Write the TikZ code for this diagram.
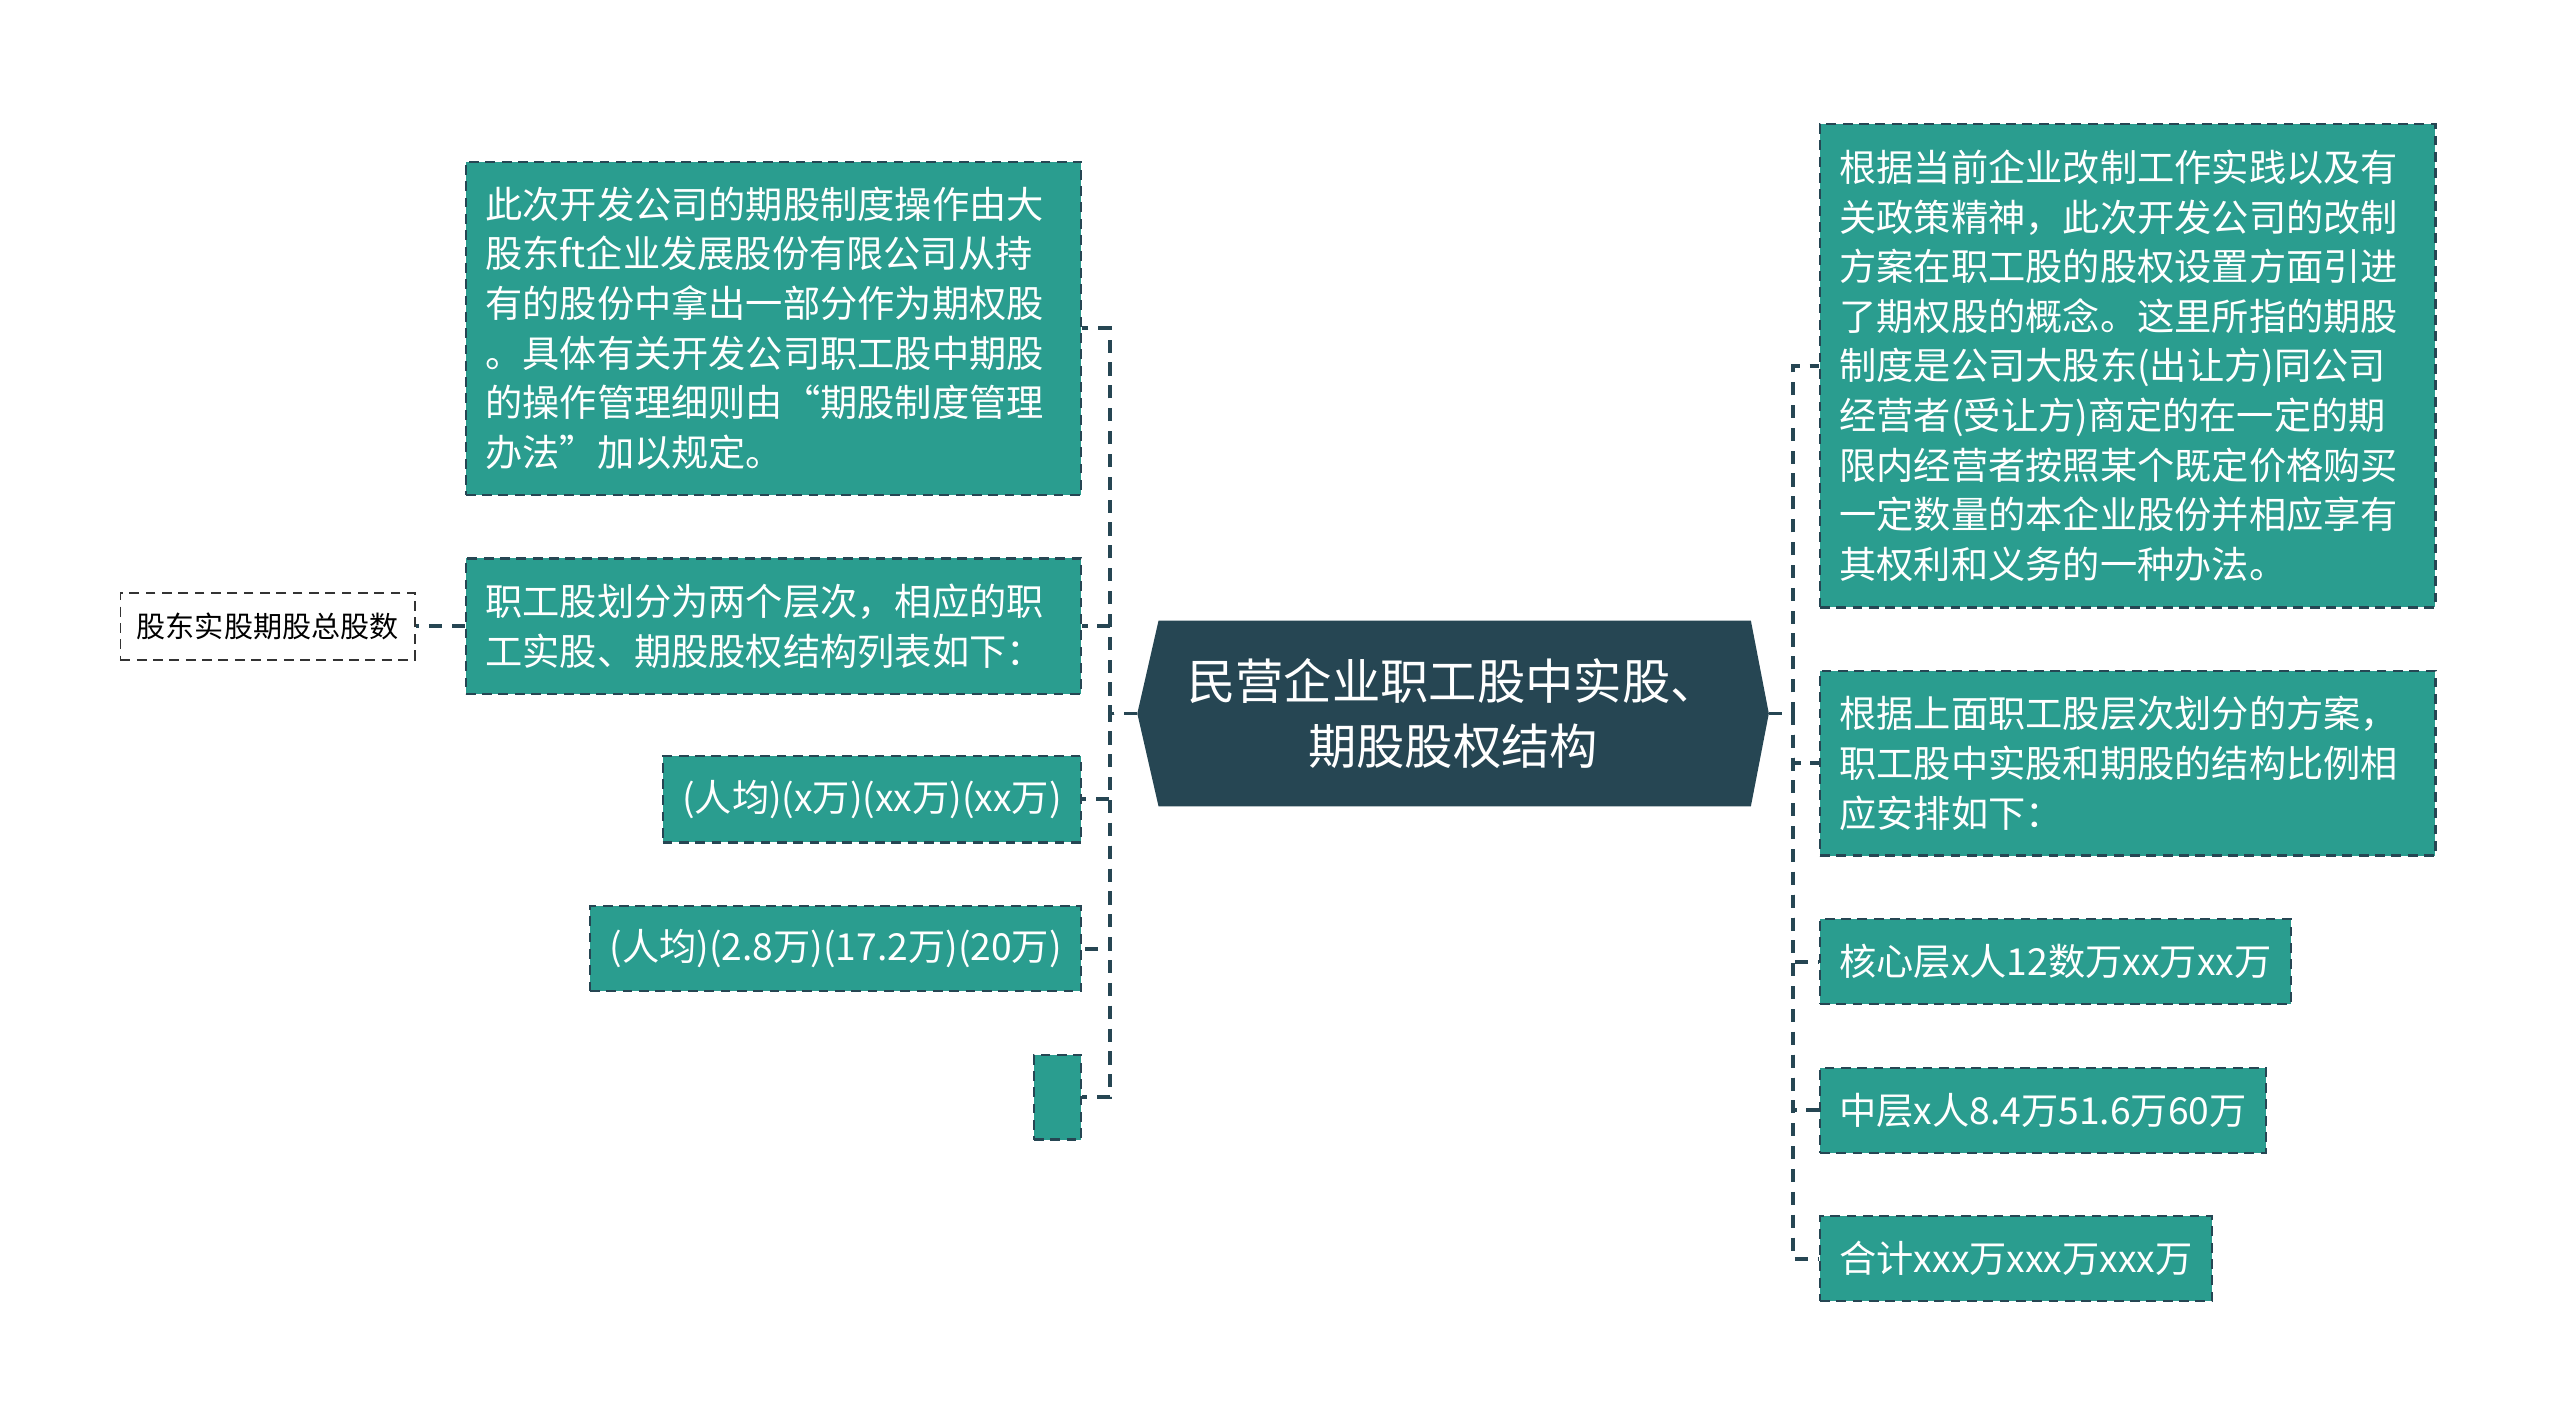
\documentclass[tikz,border=0pt]{standalone}
\usepackage{fontspec}
\newfontfamily\cjk{Noto Sans CJK SC}
\usetikzlibrary{positioning, calc, backgrounds}
\definecolor{topicteal}{HTML}{2A9D8F}
\definecolor{rootslate}{HTML}{264653}

\begin{document}
\begin{tikzpicture}[x=0.5pt, y=-0.5pt,
    topic/.style={draw=rootslate, dash pattern=on 3pt off 2pt, line width=0.7pt,
        fill=topicteal, text=white, font=\cjk\fontsize{11.4pt}{15.2pt}\selectfont,
        inner xsep=6pt, inner ysep=0pt, align=left},
    leaf/.style={draw=black!80, dash pattern=on 3pt off 2pt, line width=0.6pt,
        fill=white, text=black, font=\cjk\fontsize{8.9pt}{11pt}\selectfont,
        inner xsep=5pt, minimum height=20.5pt},
    link/.style={draw=rootslate, line width=1.2pt, dash pattern=on 4pt off 3pt}]
        \useasboundingbox (0,0) rectangle (1568,874);

        % Central topic
        \node[text=white, align=center, minimum width=193pt, minimum height=56.5pt,
        font=\cjk\fontsize{14.8pt}{20pt}\selectfont] (root) at (890,437)
        {民营企业职工股中实股、\\期股股权结构};
        \begin{scope}[on background layer]
        \fill[rootslate] (root.west) -- ($(root.north west)+(13,0)$)
        -- ($(root.north east)+(-11,0)$) -- (root.east)
        -- ($(root.south east)+(-11,0)$) -- ($(root.south west)+(13,0)$) -- cycle;
        \end{scope}

        % Left branches
        \node[topic, text width=176.5pt, minimum height=102pt, anchor=east]
        (lplan) at (663,201) {此次开发公司的期股制度操作由大\\股东ft企业发展股份有限公司从持\\有的股份中拿出一部分作为期权股\\。具体有关开发公司职工股中期股\\的操作管理细则由“期股制度管理\\办法”加以规定。};
        \node[topic, text width=176.5pt, minimum height=41.5pt, anchor=east]
        (ltiers) at (663,383.5) {职工股划分为两个层次，相应的职\\工实股、期股股权结构列表如下：};
        \node[topic, minimum height=26.5pt, anchor=east] (lavg) at (663,489.5)
        {(人均)(x万)(xx万)(xx万)};
        \node[topic, minimum height=26pt, anchor=east] (lnum) at (663,581)
        {(人均)(2.8万)(17.2万)(20万)};
        \node[topic, minimum width=14.5pt, minimum height=26pt, anchor=east]
        (lblank) at (663,672) {};
        \node[leaf, left=15pt of ltiers] (lsum) {股东实股期股总股数};

        % Right branches
        \node[topic, text width=176.5pt, minimum height=148pt, anchor=west]
        (rconcept) at (1114,224) {根据当前企业改制工作实践以及有\\关政策精神，此次开发公司的改制\\方案在职工股的股权设置方面引进\\了期权股的概念。这里所指的期股\\制度是公司大股东(出让方)同公司\\经营者(受让方)商定的在一定的期\\限内经营者按照某个既定价格购买\\一定数量的本企业股份并相应享有\\其权利和义务的一种办法。};
        \node[topic, text width=176.5pt, minimum height=56.5pt, anchor=west]
        (rratio) at (1114,467.5) {根据上面职工股层次划分的方案，\\职工股中实股和期股的结构比例相\\应安排如下：};
        \node[topic, minimum height=26pt, anchor=west] (rcore) at (1114,589)
        {核心层x人12数万xx万xx万};
        \node[topic, minimum height=26pt, anchor=west] (rmid) at (1114,680)
        {中层x人8.4万51.6万60万};
        \node[topic, minimum height=26pt, anchor=west] (rtotal) at (1114,771)
        {合计xxx万xxx万xxx万};

        % Connectors
        \foreach \n in {lplan, ltiers, lavg, lnum, lblank}
            \draw[link] (root.west) -- ++(-17,0) |- (\n.east);
        \foreach \n in {rconcept, rratio, rcore, rmid, rtotal}
            \draw[link] (root.east) -- ++(15,0) |- (\n.west);
        \draw[link] (ltiers.west) -- (lsum.east);
    \end{tikzpicture}
\end{document}
